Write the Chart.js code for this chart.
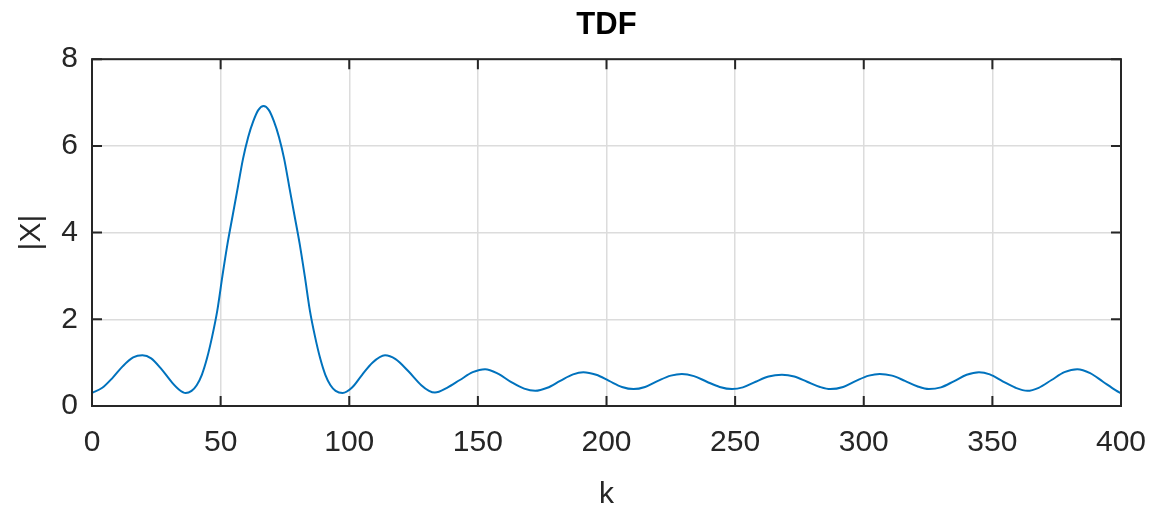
<!DOCTYPE html>
<html>
<head>
<meta charset="utf-8">
<title>TDF</title>
<script src="https://cdn.jsdelivr.net/npm/chart.js@4"></script>
<style>
  html, body { margin: 0; padding: 0; background: #fff; }
  #wrap { width: 1154px; height: 515px; }
</style>
</head>
<body>
<div id="wrap"><canvas id="tdfChart" width="1154" height="515"></canvas></div>
<script>
// values
const kPoints = [
  0, 4, 8, 12, 16, 19.6, 23, 27, 31, 34, 36.4,
  38.7, 40.7, 42.7, 44.7, 46.7, 48.7, 50.7, 52.7, 54.7, 56.7, 58.7, 60.7, 62.7, 64.7, 66.7,
  68.7, 70.7, 72.7, 74.7, 76.7, 78.7, 80.7, 82.7, 84.7, 86.7, 88.7, 90.7, 92.7, 94.7, 97.4,
  101, 105, 109, 113.9, 118, 123, 128, 131, 133.3,
  138, 143, 148, 152.8, 158, 163, 168, 172.3,
  177, 182, 187, 191, 196, 201, 206, 210.5,
  215, 220, 225, 229.3, 234, 239, 244, 248.8,
  253, 258, 263, 268.2, 273, 278, 283, 287,
  292, 297, 302, 306.2, 311, 316, 321, 325.3,
  330, 335, 340, 344.8, 349, 354, 359, 363.6,
  368, 373, 378, 383, 388, 393, 398, 400
];
const magPoints = [
  0.30, 0.42, 0.65, 0.92, 1.12, 1.17, 1.10, 0.85, 0.55, 0.37, 0.30,
  0.35, 0.48, 0.72, 1.10, 1.60, 2.20, 3.00, 3.75, 4.40, 5.05, 5.70, 6.20, 6.57, 6.83, 6.92,
  6.83, 6.57, 6.20, 5.70, 5.05, 4.40, 3.75, 3.00, 2.20, 1.60, 1.10, 0.72, 0.48, 0.35, 0.30,
  0.42, 0.72, 1.00, 1.17, 1.08, 0.80, 0.48, 0.35, 0.31,
  0.42, 0.60, 0.78, 0.85, 0.74, 0.55, 0.40, 0.35,
  0.42, 0.58, 0.73, 0.78, 0.72, 0.58, 0.44, 0.39,
  0.44, 0.58, 0.70, 0.74, 0.69, 0.56, 0.44, 0.39,
  0.43, 0.56, 0.68, 0.72, 0.68, 0.56, 0.44, 0.39,
  0.44, 0.58, 0.70, 0.74, 0.70, 0.58, 0.45, 0.39,
  0.43, 0.57, 0.72, 0.78, 0.73, 0.57, 0.42, 0.35,
  0.42, 0.60, 0.78, 0.85, 0.76, 0.56, 0.36, 0.29
];
const xTicks = [0, 50, 100, 150, 200, 250, 300, 350, 400];
const yTicks = [0, 2, 4, 6, 8];

const FONT = '"Liberation Sans", Arial, Helvetica, sans-serif';
const AXIS_COLOR = '#262626';
const GRID_COLOR = '#dcdcdc';
const LINE_COLOR = '#0072BD';

// MATLAB style box with inward ticks on all four sides
const boxPlugin = {
  id: 'matlabBox',
  afterDraw(chart) {
    const { ctx, chartArea: a, scales } = chart;
    const len = 10;
    ctx.save();
    ctx.strokeStyle = AXIS_COLOR;
    ctx.lineWidth = 2;
    ctx.strokeRect(a.left, a.top, a.right - a.left, a.bottom - a.top);
    ctx.beginPath();
    xTicks.forEach((v) => {
      const px = scales.x.getPixelForValue(v);
      ctx.moveTo(px, a.bottom);
      ctx.lineTo(px, a.bottom - len);
      ctx.moveTo(px, a.top);
      ctx.lineTo(px, a.top + len);
    });
    yTicks.forEach((v) => {
      const py = scales.y.getPixelForValue(v);
      ctx.moveTo(a.left, py);
      ctx.lineTo(a.left + len, py);
      ctx.moveTo(a.right, py);
      ctx.lineTo(a.right - len, py);
    });
    ctx.stroke();
    ctx.restore();
  },
};

function createTdfChart() {
  const ctx = document.getElementById('tdfChart');
  if (!ctx) return;

  return new Chart(ctx, {
    type: 'line',
    data: {
      datasets: [
        {
          label: '|X|',
          data: kPoints.map((k, i) => ({ x: k, y: magPoints[i] })),
          borderColor: LINE_COLOR,
          borderWidth: 2,
          pointRadius: 0,
          fill: false,
          cubicInterpolationMode: 'monotone',
        },
      ],
    },
    options: {
      responsive: false,
      animation: false,
      layout: {
        padding: { left: 0, right: 33, top: 0, bottom: 0 },
      },
      plugins: {
        legend: { display: false },
        tooltip: { enabled: false },
        title: {
          display: true,
          text: 'TDF',
          fullSize: false,
          color: '#000',
          font: { family: FONT, size: 31, weight: 'bold' },
          padding: { top: 7, bottom: 15 },
        },
      },
      scales: {
        x: {
          type: 'linear',
          min: 0,
          max: 400,
          afterFit: (s) => {
            s.height = 109;
            s.paddingLeft = 0;
            s.paddingRight = 0;
          },
          afterBuildTicks: (s) => { s.ticks = xTicks.map((v) => ({ value: v })); },
          grid: { color: GRID_COLOR, lineWidth: 1.5, drawTicks: false },
          border: { display: false },
          ticks: {
            padding: 19,
            color: AXIS_COLOR,
            maxRotation: 0,
            font: { family: FONT, size: 30 },
          },
          title: {
            display: true,
            text: 'k',
            color: AXIS_COLOR,
            font: { family: FONT, size: 30 },
            padding: { top: 0, bottom: 2 },
          },
        },
        y: {
          min: 0,
          max: 8,
          afterFit: (s) => {
            s.width = 92;
            s.paddingTop = 0;
            s.paddingBottom = 0;
          },
          afterBuildTicks: (s) => { s.ticks = yTicks.map((v) => ({ value: v })); },
          grid: { color: GRID_COLOR, lineWidth: 1.5, drawTicks: false },
          border: { display: false },
          ticks: {
            padding: 14,
            color: AXIS_COLOR,
            font: { family: FONT, size: 30 },
          },
          title: {
            display: true,
            text: '|X|',
            color: AXIS_COLOR,
            font: { family: FONT, size: 30 },
            padding: { top: 14, bottom: 0 },
          },
        },
      },
    },
    plugins: [boxPlugin],
  });
}

document.addEventListener('DOMContentLoaded', createTdfChart);
</script>
</body>
</html>
